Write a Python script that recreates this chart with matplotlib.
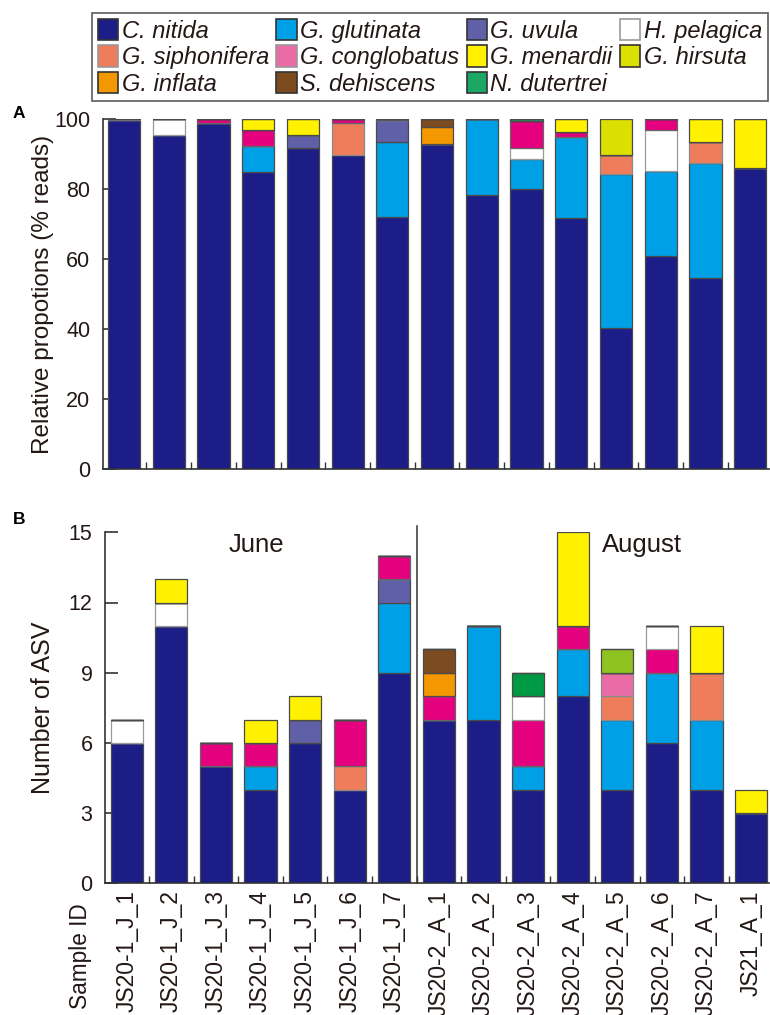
import matplotlib
matplotlib.use("Agg")
import matplotlib.pyplot as plt
from matplotlib.patches import Patch
import numpy as np

plt.rcParams['font.family'] = ['Liberation Sans', 'DejaVu Sans']

samples = ["JS20-1_J_1", "JS20-1_J_2", "JS20-1_J_3", "JS20-1_J_4", "JS20-1_J_5",
           "JS20-1_J_6", "JS20-1_J_7", "JS20-2_A_1", "JS20-2_A_2", "JS20-2_A_3",
           "JS20-2_A_4", "JS20-2_A_5", "JS20-2_A_6", "JS20-2_A_7", "JS21_A_1"]

# Panel A: relative proportions (% reads)
pct_nitida      = [99.7, 95.5, 98.8, 84.9, 91.6, 89.7, 71.9, 93.0, 78.2, 79.9, 71.7, 40.4, 61.0, 54.7, 86.0]
pct_glutinata   = [0, 0, 0, 7.4, 0, 0, 21.6, 0, 21.8, 8.7, 23.3, 44.0, 24.1, 32.6, 0]
pct_uvula       = [0, 0, 0, 0, 3.7, 0, 6.1, 0, 0, 0, 0, 0, 0, 0, 0]
pct_siphonifera = [0, 0, 0, 0, 0, 9.1, 0, 0, 0, 0, 0, 5.3, 0, 6.2, 0]
pct_pelagica    = [0.3, 4.5, 0, 0, 0, 0, 0, 0, 0, 3.1, 0, 0, 11.7, 0, 0]
pct_magenta     = [0, 0, 1.2, 4.7, 0, 1.2, 0.4, 0, 0, 7.6, 1.2, 0, 3.2, 0, 0]
pct_inflata     = [0, 0, 0, 0, 0, 0, 0, 4.6, 0, 0, 0, 0, 0, 0, 0]
pct_dehiscens   = [0, 0, 0, 0, 0, 0, 0, 2.4, 0, 0, 0, 0, 0, 0, 0]
pct_dutertrei   = [0, 0, 0, 0, 0, 0, 0, 0, 0, 0.7, 0, 0, 0, 0, 0]
pct_menardii    = [0, 0, 0, 3.0, 4.7, 0, 0, 0, 0, 0, 3.8, 0, 0, 6.5, 14.0]
pct_hirsuta     = [0, 0, 0, 0, 0, 0, 0, 0, 0, 0, 0, 10.3, 0, 0, 0]

# Panel B: number of ASV
asv_nitida      = [6, 11, 5, 4, 6, 4, 9, 7, 7, 4, 8, 4, 6, 4, 3]
asv_glutinata   = [0, 0, 0, 1, 0, 0, 3, 0, 4, 1, 2, 3, 3, 3, 0]
asv_uvula       = [0, 0, 0, 0, 1, 0, 1, 0, 0, 0, 0, 0, 0, 0, 0]
asv_siphonifera = [0, 0, 0, 0, 0, 1, 0, 0, 0, 0, 0, 1, 0, 2, 0]
asv_conglobatus = [0, 0, 0, 0, 0, 0, 0, 0, 0, 0, 0, 1, 0, 0, 0]
asv_magenta     = [0, 0, 1, 1, 0, 2, 1, 1, 0, 2, 1, 0, 1, 0, 0]
asv_pelagica    = [1, 1, 0, 0, 0, 0, 0, 0, 0, 1, 0, 0, 1, 0, 0]
asv_inflata     = [0, 0, 0, 0, 0, 0, 0, 1, 0, 0, 0, 0, 0, 0, 0]
asv_dehiscens   = [0, 0, 0, 0, 0, 0, 0, 1, 0, 0, 0, 0, 0, 0, 0]
asv_dutertrei   = [0, 0, 0, 0, 0, 0, 0, 0, 0, 1, 0, 0, 0, 0, 0]
asv_hirsuta     = [0, 0, 0, 0, 0, 0, 0, 0, 0, 0, 0, 1, 0, 0, 0]
asv_menardii    = [0, 1, 0, 1, 1, 0, 0, 0, 0, 0, 4, 0, 0, 2, 1]

legend_labels = ["C. nitida", "G. glutinata", "G. uvula", "H. pelagica",
                 "G. siphonifera", "G. conglobatus", "G. menardii", "G. hirsuta",
                 "G. inflata", "S. dehiscens", "N. dutertrei"]

col = {
    "nitida": "#1c1d86", "glutinata": "#00a0e6", "uvula": "#6060a8", "pelagica": "#ffffff",
    "siphonifera": "#ef7d5b", "conglobatus": "#ea6ca6", "menardii": "#fff100",
    "hirsuta": "#dce000", "inflata": "#f39800", "dehiscens": "#7c4b1f",
    "dutertrei": "#1ba865", "magenta": "#e5007f",
}
colB = dict(col, hirsuta="#8fc31f", dutertrei="#009944")
edge = {k: "#4a4a4a" for k in col}
edge.update({"pelagica": "#9a9a9a", "siphonifera": "#8a8a8a", "conglobatus": "#8a8a8a",
             "magenta": "#666666"})

A_order = [("nitida", pct_nitida), ("glutinata", pct_glutinata), ("uvula", pct_uvula),
           ("siphonifera", pct_siphonifera), ("pelagica", pct_pelagica),
           ("magenta", pct_magenta), ("inflata", pct_inflata), ("dehiscens", pct_dehiscens),
           ("dutertrei", pct_dutertrei), ("menardii", pct_menardii), ("hirsuta", pct_hirsuta)]
B_order = [("nitida", asv_nitida), ("glutinata", asv_glutinata), ("uvula", asv_uvula),
           ("siphonifera", asv_siphonifera), ("conglobatus", asv_conglobatus),
           ("magenta", asv_magenta), ("pelagica", asv_pelagica), ("inflata", asv_inflata),
           ("dehiscens", asv_dehiscens), ("dutertrei", asv_dutertrei),
           ("hirsuta", asv_hirsuta), ("menardii", asv_menardii)]

W, H = 770, 1015
fig = plt.figure(figsize=(W / 100, H / 100), dpi=100)

def px_axes(l, r, top, bot):
    return fig.add_axes([l / W, 1 - bot / H, (r - l) / W, (bot - top) / H])

axA = px_axes(103, 769, 119, 469)
axB = px_axes(105, 769, 532.3, 883.3)

x = np.arange(len(samples))
bw = 0.72
txtc = "#231815"

def stack(ax, order, colors):
    bottom = np.zeros(len(samples))
    for key, vals in order:
        v = np.array(vals, dtype=float)
        ax.bar(x, v, bw, bottom=bottom, color=colors[key], edgecolor=edge[key],
               linewidth=0.9, zorder=2)
        bottom += v

stack(axA, A_order, col)
stack(axB, B_order, colB)

for ax in (axA, axB):
    ax.set_axisbelow(True)
    for s in ("top", "right"):
        ax.spines[s].set_visible(False)
    for s in ("left", "bottom"):
        ax.spines[s].set_color("#333333")
        ax.spines[s].set_linewidth(1.2)
    ax.set_xticks(x)
    ax.set_xticks(x[:-1] + 0.5, minor=True)
    ax.tick_params(axis="x", which="major", length=0)
    ax.tick_params(axis="x", which="minor", direction="in", length=5, width=1, color="#333333")
    ax.tick_params(axis="y", direction="in", length=9.5, width=1.2, color="#333333",
                   labelsize=15.5, pad=9, labelcolor=txtc)

axA.set_xlim(-0.47, 14.42)
axA.set_ylim(0, 100)
axA.set_yticks([0, 20, 40, 60, 80, 100])
axA.set_xticklabels([])
axA.set_ylabel("Relative propotions (% reads)", fontsize=17.5, color=txtc, labelpad=0.5)

axB.set_xlim(-0.485, 14.4)
axB.set_ylim(0, 15)
axB.set_yticks([0, 3, 6, 9, 12, 15])
axB.set_xticklabels(samples, rotation=90, fontsize=16.5, color=txtc, va="top", ha="center")
axB.tick_params(axis="x", which="major", pad=5)
axB.set_ylabel("Number of ASV", fontsize=18, color=txtc, labelpad=10)

axB.plot([6.5, 6.5], [0, 15.25], color="#333333", lw=1.1, clip_on=False, zorder=3)
fig.text(256 / W, 1 - 545 / H, "June", fontsize=18.5, color=txtc, ha="center", va="center")
fig.text(642 / W, 1 - 545 / H, "August", fontsize=18.5, color=txtc, ha="center", va="center")

fig.text(80 / W, 1 - 903 / H, "Sample ID", rotation=90, fontsize=16.3, color=txtc,
         ha="center", va="top")
fig.text(19 / W, 1 - 113 / H, "A", fontsize=12.5, fontweight="bold", ha="center", va="center")
fig.text(19 / W, 1 - 519 / H, "B", fontsize=12.5, fontweight="bold", ha="center", va="center")

leg_keys = ["nitida", "glutinata", "uvula", "pelagica", "siphonifera", "conglobatus",
            "menardii", "hirsuta", "inflata", "dehiscens", "dutertrei"]
handles = [Patch(facecolor=col[k], edgecolor=("#999999" if k in ("pelagica", "siphonifera", "conglobatus") else "#333333"),
                 linewidth=1.2, label=legend_labels[i]) for i, k in enumerate(leg_keys)]
# reorder row-major -> column-major for 4 columns
colmajor = [0, 4, 8, 1, 5, 9, 2, 6, 10, 3, 7]
hs = [handles[i] for i in colmajor]
leg = fig.legend(handles=hs, labels=[legend_labels[i] for i in colmajor], ncol=4,
                 loc="upper left", bbox_to_anchor=(92 / W, 1 - 13 / H, 676 / W, 0.0),
                 mode="expand", frameon=True, fancybox=False,
                 handlelength=0.85, handleheight=1.0, handletextpad=0.15,
                 labelspacing=0.12, borderpad=0.25, borderaxespad=0.0, columnspacing=0.3,
                 prop={"style": "italic", "size": 17})
leg.get_frame().set_edgecolor("#333333")
leg.get_frame().set_linewidth(1.2)
for t in leg.get_texts():
    t.set_color(txtc)

fig.savefig("out.png", dpi=100)
